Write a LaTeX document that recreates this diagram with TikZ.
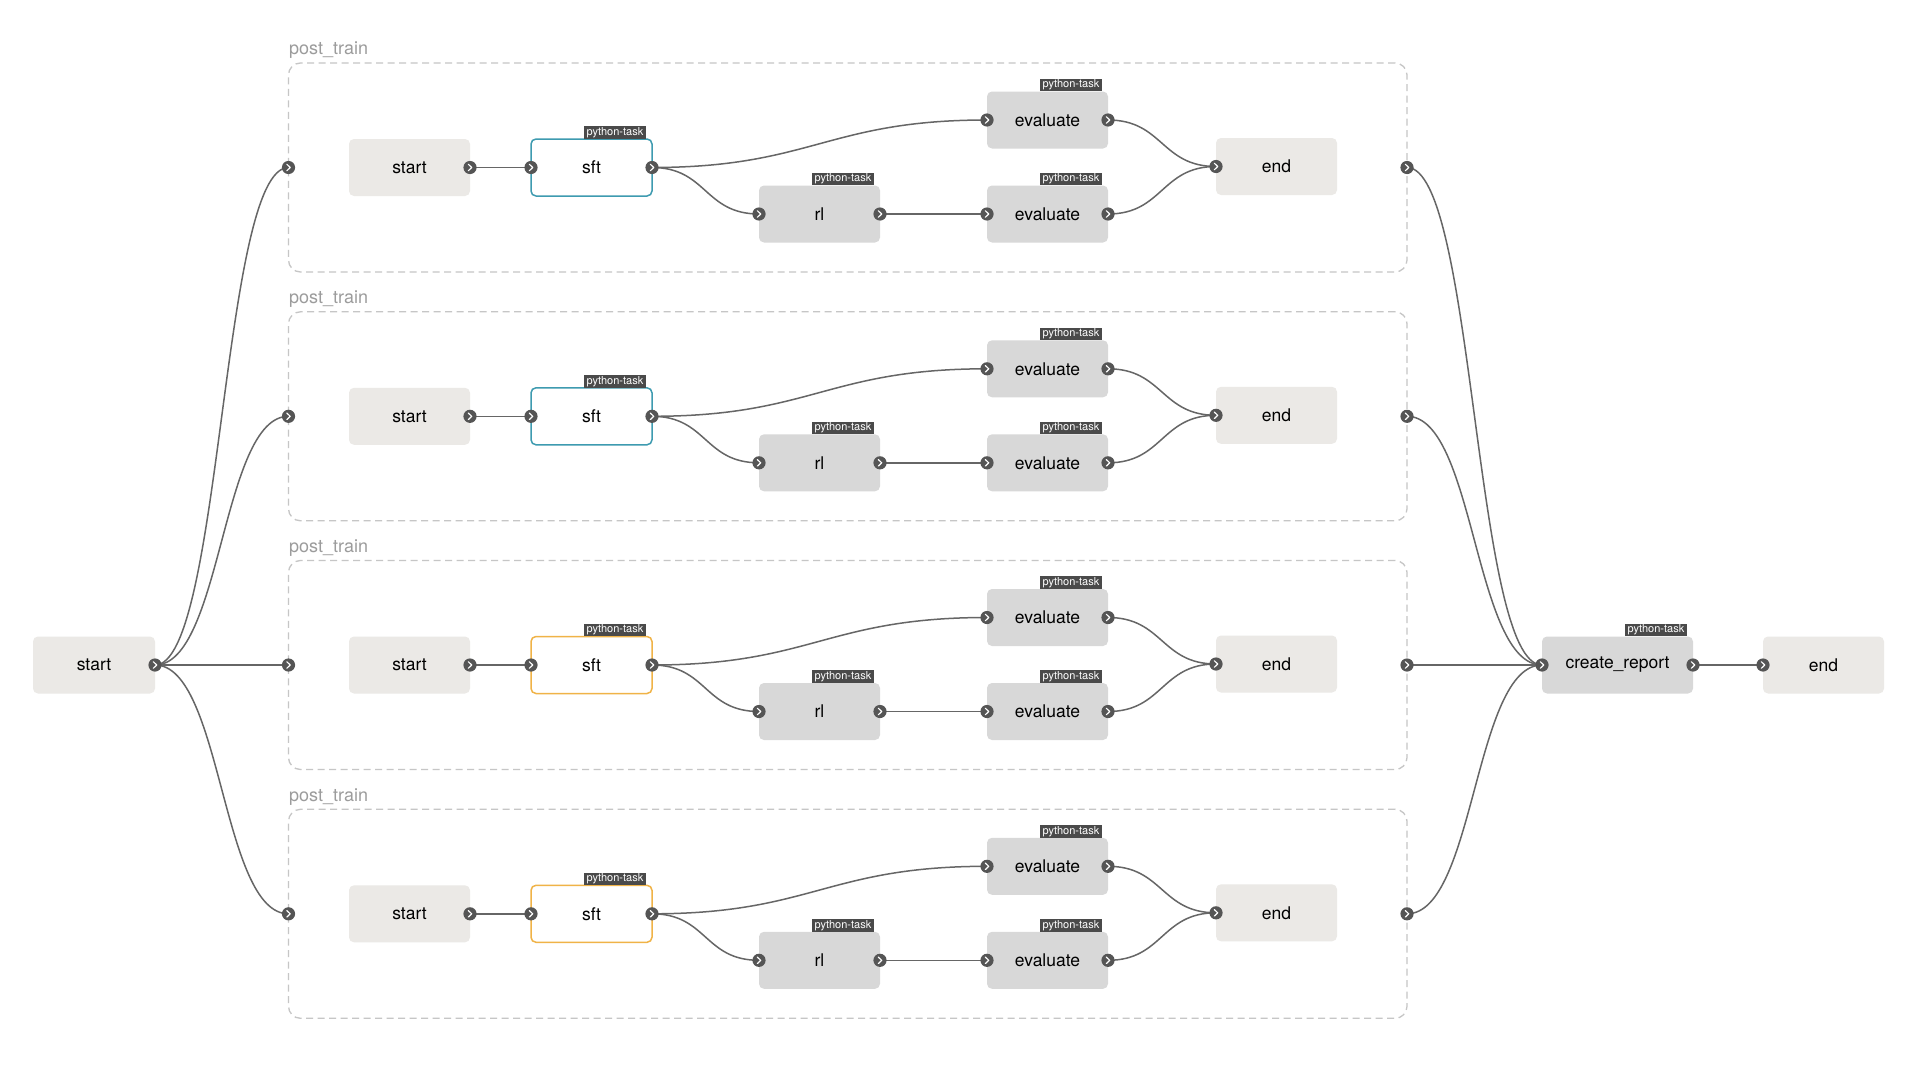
\documentclass[tikz,border=0pt]{standalone}
\usepackage{fontspec}
\setmainfont{TeX Gyre Heros}
\usepackage{tikz}
\usetikzlibrary{
  positioning,
  backgrounds
}
\definecolor{PlainFill}{HTML}{EBE9E6}
\definecolor{TaskFill}{HTML}{D8D8D8}
\definecolor{SftTeal}{HTML}{3E9BB0}
\definecolor{SftAmber}{HTML}{F0B347}
\definecolor{TagGrey}{HTML}{4A4A4A}
\definecolor{PortGrey}{HTML}{555555}
\definecolor{LinkGrey}{HTML}{666666}
\definecolor{GroupGrey}{HTML}{C6C6C6}
\definecolor{LabelGrey}{HTML}{9C9C9C}
\tikzset{
  % start / end box
  plain/.style={
    rectangle, rounded corners=5pt,
    fill=PlainFill,
    minimum width=121pt, minimum height=57pt,
    inner sep=0pt, outer sep=0pt,
    font=\fontsize{17.5}{20}\selectfont
  },
  % python-task tag above a box
  tagbox/.style={
    anchor=south east, xshift=-6pt,
    fill=TagGrey, text=white,
    inner xsep=2.5pt, inner ysep=1pt,
    text height=8pt, text depth=2.4pt,
    font=\fontsize{11}{12}\selectfont
  },
  % grey task box
  task/.style={
    plain, fill=TaskFill,
    label={[tagbox]north east:python-task}
  },
  % training task, outlined
  train/.style={
    plain, fill=white, draw=#1, line width=1.5pt,
    label={[tagbox]north east:python-task}
  },
  % dashed group frame
  grp/.style={
    rectangle, rounded corners=12pt,
    draw=GroupGrey, dash pattern=on 7pt off 4.5pt, line width=1.3pt,
    minimum width=1118.5pt, minimum height=209pt,
    inner sep=0pt, outer sep=0pt
  },
  grplbl/.style={
    anchor=base west, yshift=8pt, xshift=0.5pt,
    text=LabelGrey, inner sep=0pt,
    font=\fontsize{18}{20}\selectfont
  },
  % connector
  link/.style={draw=LinkGrey, line width=1.5pt},
  swing/.style={out=0, in=180, distance=#1},
  % port dot with chevron
  port/.pic={
    \fill[PortGrey] (0,0) circle (6.6);
    \draw[white, line width=1.2pt, line cap=round, line join=round]
      (-1.6,-3.2) -- (1.7,0) -- (-1.6,3.2);
  }
}
\begin{document}
\begin{tikzpicture}[x=1pt, y=-1pt]

  \begin{scope}[on background layer]
    \fill[white] (0,0) rectangle (1920,1081);
  \end{scope}
  \useasboundingbox (0,0) rectangle (1920,1081);

  % Outer flow
  \node[plain, minimum width=122pt] (start) at (94,665) {start};
  \node[task, minimum width=151pt] (report) at (1617.5,665) {create\_report};
  \node[plain, right=70pt of report] (end) {end};

  % One post_train group per row
  \foreach \i/\y/\col in {1/167.5/SftTeal, 2/416.3/SftTeal, 3/665/SftAmber, 4/913.8/SftAmber} {
    \node[grp, label={[grplbl]north west:post\_train}] (g\i) at (847.75,\y) {};

    \node[plain] (g\i-start) at (409.5,\y) {start};
    \node[train=\col, right=61pt of g\i-start] (g\i-sft) {sft};
    \node[task, right=107pt of g\i-sft, yshift=-46.5pt] (g\i-rl) {rl};
    \node[task, right=107pt of g\i-rl] (g\i-ev2) {evaluate};
    \node[task, above=37pt of g\i-ev2] (g\i-ev1) {evaluate};
    \node[plain, right=108pt of g\i-ev1, yshift=-46.5pt] (g\i-end) {end};

    \begin{scope}[on background layer]
      \draw[link] (g\i-start.east) -- (g\i-sft.west);
      \draw[link] (g\i-sft.east) to[swing=160pt] (g\i-ev1.west);
      \draw[link] (g\i-sft.east) to[swing=55pt] (g\i-rl.west);
      \draw[link] (g\i-rl.east) -- (g\i-ev2.west);
      \draw[link] (g\i-ev1.east) to[swing=55pt] (g\i-end.west);
      \draw[link] (g\i-ev2.east) to[swing=55pt] (g\i-end.west);
      \draw[link] (start.east) to[swing=67pt] (g\i.west);
      \draw[link] (g\i.east) to[swing=68pt] (report.west);
    \end{scope}

    % Ports
    \pic at (g\i.west) {port};
    \pic at (g\i.east) {port};
    \pic at (g\i-start.east) {port};
    \pic at (g\i-end.west) {port};
    \foreach \n in {sft, rl, ev1, ev2} {
      \pic at (g\i-\n.west) {port};
      \pic at (g\i-\n.east) {port};
    }
  }

  \begin{scope}[on background layer]
    \draw[link] (report.east) -- (end.west);
  \end{scope}
  \pic at (start.east) {port};
  \pic at (report.west) {port};
  \pic at (report.east) {port};
  \pic at (end.west) {port};

\end{tikzpicture}
\end{document}
